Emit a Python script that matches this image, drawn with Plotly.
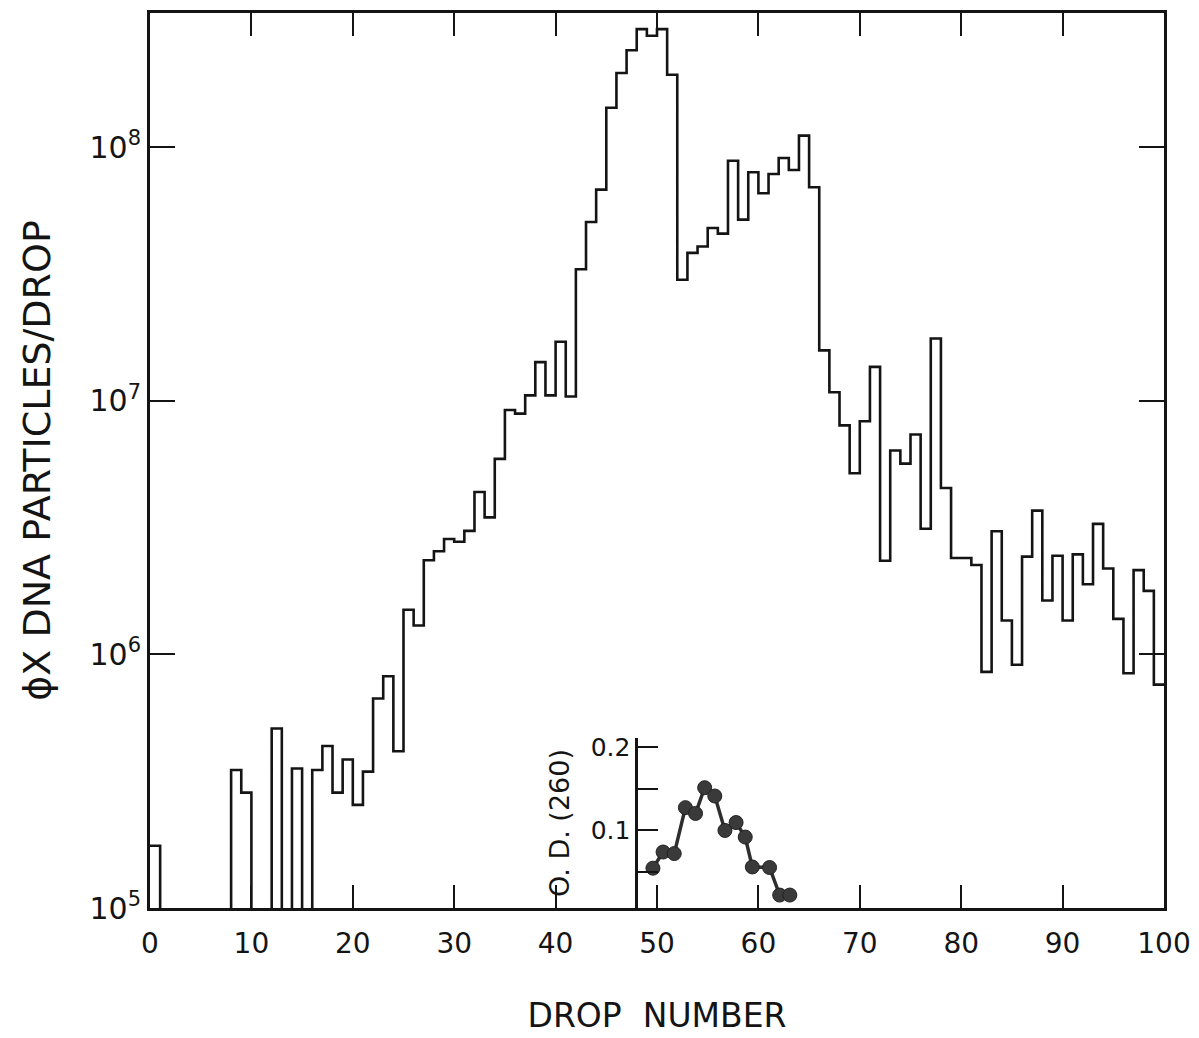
import numpy as np
import plotly.graph_objects as go

# Histogram: phiX DNA particles per drop, one value per drop (0 = none detected)
drops = list(range(0, 100))
particles = [
    1.76e5, 0, 0, 0, 0, 0, 0, 0, 3.5e5, 2.85e5,
    0, 0, 5.1e5, 0, 3.55e5, 0, 3.5e5, 4.35e5, 2.85e5, 3.85e5,
    2.55e5, 3.45e5, 6.7e5, 8.2e5, 4.15e5, 1.5e6, 1.3e6, 2.35e6, 2.55e6, 2.85e6,
    2.78e6, 3.07e6, 4.37e6, 3.47e6, 5.9e6, 9.2e6, 8.9e6, 1.05e7, 1.42e7, 1.05e7,
    1.71e7, 1.04e7, 3.3e7, 5.07e7, 6.8e7, 1.43e8, 1.96e8, 2.41e8, 2.92e8, 2.75e8,
    2.92e8, 1.93e8, 3.0e7, 3.83e7, 4.06e7, 4.8e7, 4.56e7, 8.84e7, 5.18e7, 7.96e7,
    6.58e7, 7.84e7, 9.06e7, 8.13e7, 1.11e8, 6.95e7, 1.58e7, 1.08e7, 8.0e6, 5.18e6,
    8.3e6, 1.36e7, 2.34e6, 6.37e6, 5.65e6, 7.36e6, 3.13e6, 1.76e7, 4.53e6, 2.4e6,
    2.4e6, 2.25e6, 8.53e5, 3.06e6, 1.36e6, 9.1e5, 2.43e6, 3.69e6, 1.63e6, 2.45e6,
    1.36e6, 2.48e6, 1.89e6, 3.27e6, 2.18e6, 1.38e6, 8.43e5, 2.15e6, 1.78e6, 7.6e5,
]

# Inset: optical density at 260 nm
od_drops = [49.6, 50.6, 51.7, 52.8, 53.8, 54.7, 55.7, 56.7, 57.8, 58.7, 59.4, 61.1, 62.1, 63.1]
od_values = [0.054, 0.0735, 0.0716, 0.127, 0.120, 0.151, 0.141, 0.0995, 0.109, 0.0915,
             0.0555, 0.0548, 0.0216, 0.0216]

x_ticks = list(range(0, 101, 10))
y_ticks = [1e5, 1e6, 1e7, 1e8]
y_ticktext = ["10<sup>5</sup>", "10<sup>6</sup>", "10<sup>7</sup>", "10<sup>8</sup>"]
od_ticks = [0.1, 0.2]
od_ticktext = ["0.1", "0.2"]

FONT = "DejaVu Sans"
INK = "#141414"

vals = np.array(particles, dtype=float)
vals = np.where(vals > 0, vals, 1e3)  # empty drops fall below the axis
xs = drops + [drops[-1] + 1]
ys = list(vals) + [vals[-1]]

fig = go.Figure()
fig.add_trace(go.Scatter(
    x=xs, y=ys, mode="lines", line=dict(shape="hv", color=INK, width=2.6),
    showlegend=False, hoverinfo="skip",
))
fig.add_trace(go.Scatter(
    x=od_drops, y=od_values, mode="lines+markers", yaxis="y2",
    line=dict(color="#2e2e2e", width=3.5),
    marker=dict(size=14, color="#3a3a3a", line=dict(color="#222", width=1)),
    showlegend=False, hoverinfo="skip",
))

fig.update_layout(
    width=1199, height=1038,
    margin=dict(l=150, r=27, t=8, b=130),
    paper_bgcolor="white", plot_bgcolor="rgba(0,0,0,0)",
    font=dict(family=FONT, color=INK),
    xaxis=dict(
        range=[0, 100], tickvals=x_ticks, ticks="inside", ticklen=23, tickwidth=2,
        tickcolor=INK, showline=True, linewidth=3, linecolor=INK, mirror="ticks",
        showgrid=False, zeroline=False, tickfont=dict(size=28, family=FONT),
        ticklabelstandoff=8,
        title=dict(text="DROP&nbsp; NUMBER", font=dict(size=33, family=FONT), standoff=46),
    ),
    yaxis=dict(
        type="log", range=[5, 8.529], tickvals=y_ticks, ticktext=y_ticktext,
        ticks="inside", ticklen=25, tickwidth=2, tickcolor=INK,
        showline=True, linewidth=3, linecolor=INK, mirror="ticks",
        showgrid=False, zeroline=False, tickfont=dict(size=30, family=FONT),
        title=dict(text="\u03d5X DNA PARTICLES/DROP", font=dict(size=38, family=FONT), standoff=28),
    ),
    yaxis2=dict(
        domain=[0, 0.19], range=[0.006, 0.211], anchor="free", position=0.4795,
        tickvals=od_ticks, ticktext=od_ticktext, ticks="inside", ticklen=20,
        tickwidth=2, tickcolor=INK, showline=True, linewidth=2.5, linecolor=INK,
        minor=dict(dtick=0.05, tick0=0, ticks="inside", ticklen=20, tickwidth=2, tickcolor=INK, showgrid=False),
        showgrid=False, zeroline=False, tickfont=dict(size=25, family=FONT),
        title=dict(text="O. D. (260)", font=dict(size=27, family=FONT), standoff=12),
    ),
)

fig.write_html("out.html")
